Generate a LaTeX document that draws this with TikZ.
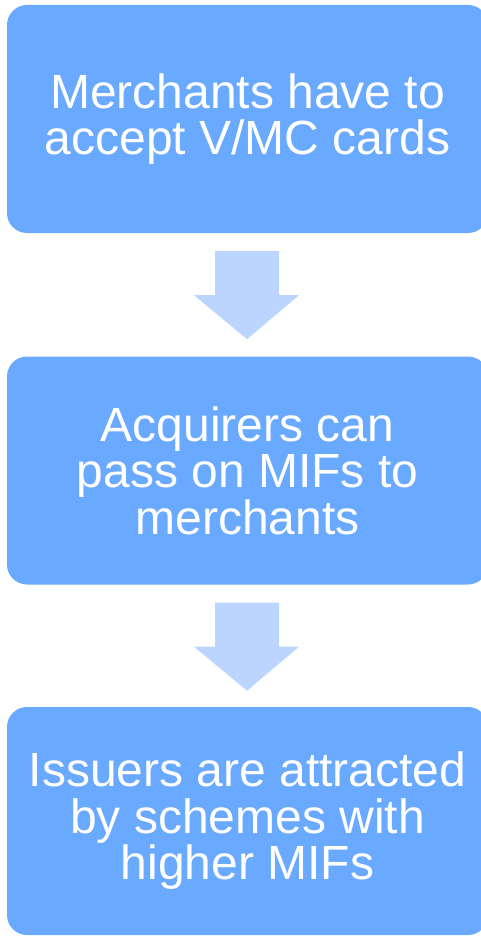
\documentclass[tikz,border=0pt]{standalone}
\usepackage{fontspec}
\setmainfont{Liberation Sans}
\usetikzlibrary{calc}
\definecolor{boxblue}{HTML}{69A9FF}
\definecolor{arrowblue}{HTML}{BCD5FF}
\tikzset{
  flowbox/.style={fill=boxblue, draw=none, rounded corners=20pt, minimum width=481pt, minimum height=228pt,
    inner sep=0pt, text=white, align=center, font=\fontsize{48}{46.5}\selectfont},
  downarrow/.style={fill=arrowblue, draw=none}
}
\newcommand{\flowarrow}[1]{%
  \fill[downarrow] ($(#1)+(-32,18)$) -- ($(#1)+(32,18)$) -- ($(#1)+(32,62)$) -- ($(#1)+(52,62)$)
    -- ($(#1)+(0,106)$) -- ($(#1)+(-53,62)$) -- ($(#1)+(-32,62)$) -- cycle;}
\begin{document}
\begin{tikzpicture}[x=1pt,y=-1pt]
\useasboundingbox (0,0) rectangle (481,936);
\clip (0,0) rectangle (481,936);
\node[flowbox] (b1) at (247.5,119) {Merchants have to\\accept V/MC cards};
\node[flowbox] (b2) at (247.5,470.5) {Acquirers can\\pass on MIFs to\\merchants};
\node[flowbox] (b3) at (247.5,821) {Issuers are attracted\\by schemes with\\higher MIFs};
\coordinate (a1) at ($(b1.south)+(-0.5,0)$);
\coordinate (a2) at ($(b2.south)+(-0.5,0)$);
\flowarrow{a1}
\flowarrow{a2}
\end{tikzpicture}
\end{document}
